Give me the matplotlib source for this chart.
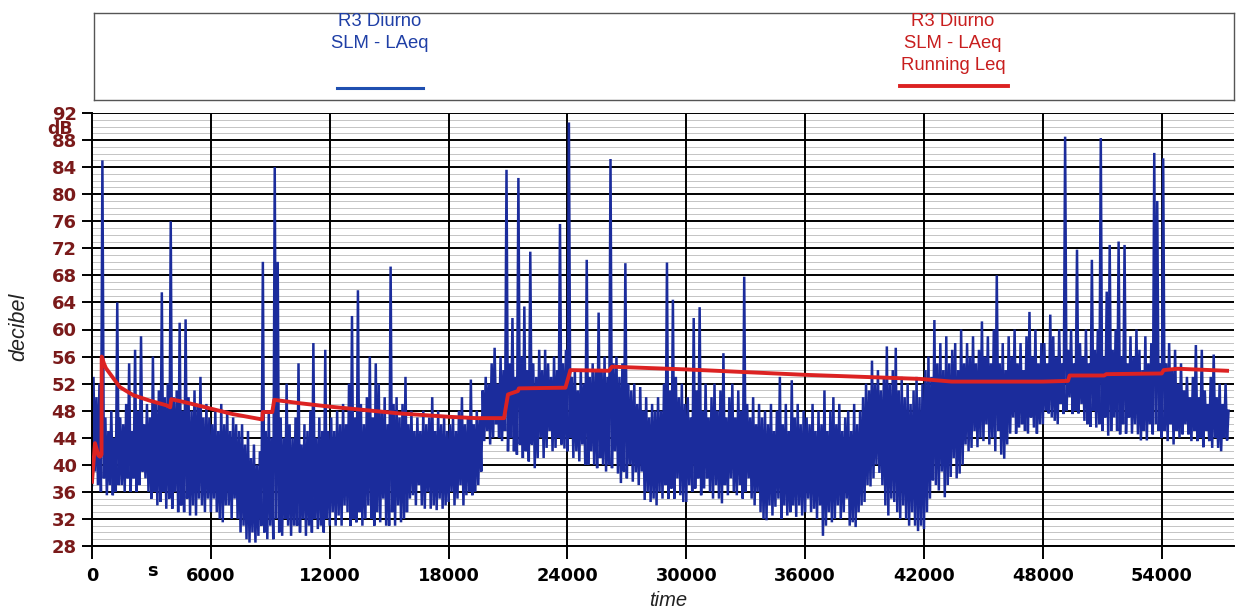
import numpy as np
import matplotlib
matplotlib.use("Agg")
import matplotlib.pyplot as plt
from matplotlib.ticker import MultipleLocator

# ---------------- data ----------------
SAMPLE_STEP = 75  # seconds between plotted LAeq samples

laeq_00000 = [37, 53, 39, 50, 37, 52, 36, 85, 38, 47, 35.5, 45, 37, 48, 35.5, 44, 36, 64, 37, 47,
              37, 46, 36, 49, 38, 55, 36, 45, 38, 57, 36, 48, 37, 59, 39, 46, 38, 49, 36, 47,
              35, 56, 36, 49, 34, 51, 34.5, 65.5, 36, 50, 33.5, 52, 35, 76, 33.5, 50, 36, 51, 33, 61,
              34, 48, 33, 61.5, 35, 50, 32.5, 48, 34, 51, 32.5, 49, 35, 53, 34, 47, 33, 49, 35, 47]
laeq_06000 = [33, 46, 35, 48, 33, 45, 32, 49, 31.5, 46, 34, 48, 34, 45, 32, 47, 35, 46, 32, 45,
              30, 46, 31, 43, 29, 45, 28.5, 41, 30, 43, 28.5, 40, 29.5, 42, 31, 70, 30, 45, 29, 48,
              31, 44, 29, 84, 32, 70, 30, 47, 29.5, 44, 32, 52, 31, 46, 29.5, 44, 31, 47, 31, 55,
              30, 43, 32, 46, 29.5, 45, 31, 48, 30, 58, 32, 44, 30.5, 47, 31, 45, 30, 57, 32, 45]
laeq_12000 = [31, 47, 33, 45, 31, 48, 32.5, 46, 31, 49, 34, 46, 33, 52, 31, 62, 32, 47, 31.5, 65.8,
              33, 49, 31, 46, 32, 50, 34, 56, 32, 47, 31, 55, 33, 52, 31.5, 48, 35, 50, 31, 46,
              31, 69.3, 33, 49, 31, 50, 34, 47, 31.5, 49, 32, 53, 33, 46, 35, 48, 35.5, 45, 34, 47,
              37, 45, 34, 48, 33.5, 46, 36, 47, 33.5, 50, 34, 45, 33.3, 48, 35, 46, 33.5, 47, 34, 45]
laeq_18000 = [34.5, 46, 36, 47, 34, 45, 35, 48, 37, 50, 34, 46, 35.5, 47, 36, 52.6, 35.5, 46, 36, 48,
              37, 47, 39, 51, 43.5, 53, 45, 52, 43, 55, 44, 57.3, 46, 52, 44, 56, 43.5, 54, 45, 83.6,
              42, 55, 44, 61.7, 42, 53, 41.5, 82.4, 43, 56, 41, 63.4, 42, 54, 40.5, 71.5, 43, 55, 39.5, 53,
              41, 57, 44, 54, 41, 57, 42.5, 55, 45, 53, 42, 56, 42.5, 54, 44, 75.6, 43, 55, 42.4, 57]
laeq_24000 = [42, 90.6, 44, 53, 41, 54, 42, 51, 40.5, 54, 43, 52, 40, 70.3, 40, 53, 42, 55, 40, 54,
              39.5, 62.5, 41, 54, 40, 56, 39, 53, 40, 85.2, 39.5, 55, 42, 56, 38.7, 53, 37.3, 55, 39, 69.8,
              38, 52, 40, 51, 37.5, 52, 38.9, 49, 37, 51.5, 39, 48, 34.8, 50, 36, 47, 34.5, 49, 35, 48,
              34, 50, 36, 48, 35, 52, 37, 69.9, 35, 51, 36.5, 64.4, 35, 53, 38, 50, 35.5, 52, 34.5, 49]
laeq_30000 = [34.5, 50, 37, 47, 36, 61.7, 36.5, 51, 38, 63.3, 35.5, 48, 36.5, 52, 38, 47, 36, 50, 35, 52,
              37, 48, 35, 51, 34.3, 56.5, 37, 47, 35.5, 50, 38, 52, 36, 47, 35.5, 51, 37, 48, 35, 67.8,
              36, 49, 38, 47, 35, 50, 34, 46, 36, 49, 33, 47, 32, 48, 31.8, 46, 34, 49, 32.5, 45,
              33.8, 48, 35, 53, 32, 46, 34, 49, 32.5, 45, 33, 52.5, 34, 47, 32.3, 49, 34, 46, 32.5, 48]
laeq_36000 = [33, 47, 35, 46, 33, 49, 33.5, 45, 32, 48, 34, 46, 29.5, 51, 31, 45, 33, 48, 31.5, 50,
              32, 46, 34, 49, 32, 45, 33, 47, 35, 48, 31, 45, 31.5, 49, 30.8, 46, 33, 48, 34, 50,
              34.5, 52, 37, 51, 36.8, 55.4, 38, 52, 40, 54, 38.8, 51, 37, 53, 34, 57.5, 32.5, 52, 35, 54,
              34.5, 57.3, 33, 51, 32, 53, 34, 50, 32, 52, 31, 49, 33, 51, 31, 53, 30.2, 50, 31, 52]
laeq_42000 = [30.5, 54, 33, 56, 35, 53, 37.7, 61.4, 37, 55, 36.2, 58, 39, 54, 35.2, 59, 37, 55, 38.2, 57,
              41, 58, 38, 54, 38.7, 60, 40, 55, 43, 58, 42, 56, 42.5, 59, 45, 55, 42.6, 57, 44, 61.2,
              43.5, 56, 46, 59, 43, 55, 44, 60, 42, 68, 45, 55, 41.5, 58, 40.9, 54, 43, 59, 44.6, 56,
              47, 60, 44.6, 55, 45.5, 58, 46, 54, 45, 59, 44.6, 62.6, 47, 56, 45.5, 60, 44.6, 55, 46, 58]
laeq_48000 = [46, 58, 48, 55, 47.6, 62.2, 47, 59, 46.5, 56, 46, 60, 49, 55, 47.5, 88.5, 48, 57, 50, 60,
              47.5, 55, 48, 71.8, 47.6, 58, 49, 56, 46.5, 60, 46, 55, 45.6, 70.3, 48, 57, 45.5, 60, 46, 88.3,
              45, 56, 47, 65.6, 44.3, 72.5, 45, 57, 47, 60, 45, 73, 44.5, 56, 46, 72.5, 44.6, 55, 47, 59,
              44.6, 56, 46, 60, 44.5, 57, 43.6, 54, 45, 59, 43.6, 55, 46, 58, 44.5, 86.1, 46, 79, 45, 55]
laeq_54000 = [44, 85.3, 45, 55, 43.5, 58, 46, 54, 43, 57, 45, 52, 44, 55, 44.5, 51, 46, 53, 44.5, 50,
              43.5, 53, 45, 57.7, 43.5, 50, 44, 57, 42.6, 51, 45, 49, 43.5, 53, 42.5, 56.3, 44, 50, 42.5, 52,
              42, 49, 44, 52, 43.6, 48]

running_leq_t = [0, 150, 320, 400, 480, 490, 600, 700, 900, 1400, 2080, 2900, 3750, 3950, 4000, 4760,
                 6000, 7100, 8600, 8620, 9100, 9200, 10500, 12000, 15500, 18000, 19400, 20800, 21000,
                 21500, 21550, 23900, 24150, 26100, 26250, 30000, 36000, 41800, 43400, 48000, 49270,
                 49350, 51100, 51200, 54000, 54100, 54800, 57300]
running_leq_db = [37.5, 43.2, 41.4, 41.2, 41.5, 56, 55, 54.3, 53.5, 51.5, 50.3, 49.5, 48.8, 48.5, 49.7, 49.2,
                  48.3, 47.5, 46.7, 47.8, 47.8, 49.6, 49.1, 48.6, 47.6, 47.1, 46.9, 46.9, 50.4,
                  50.9, 51.3, 51.4, 54.0, 53.9, 54.5, 54.1, 53.3, 52.7, 52.3, 52.3, 52.4,
                  53.2, 53.2, 53.4, 53.5, 54.0, 54.2, 53.9]

x_ticks = [0, 6000, 12000, 18000, 24000, 30000, 36000, 42000, 48000, 54000]
y_ticks = [28, 32, 36, 40, 44, 48, 52, 56, 60, 64, 68, 72, 76, 80, 84, 88, 92]

legend_blue = ["R3 Diurno", "SLM - LAeq"]
legend_red = ["R3 Diurno", "SLM - LAeq", "Running Leq"]

# ---------------- styling ----------------
BLUE = "#1b2c9c"
RED = "#dc2222"
MAROON = "#7a1a1a"
W, H = 1236, 609

laeq = np.array(laeq_00000 + laeq_06000 + laeq_12000 + laeq_18000 + laeq_24000 +
                laeq_30000 + laeq_36000 + laeq_42000 + laeq_48000 + laeq_54000)
t = np.arange(len(laeq)) * SAMPLE_STEP

fig = plt.figure(figsize=(W / 100, H / 100), dpi=100)
fig.patch.set_facecolor("white")

ax_l, ax_r, ax_t, ax_b = 92, 1234, 113, 546
ax = fig.add_axes([ax_l / W, 1 - ax_b / H, (ax_r - ax_l) / W, (ax_b - ax_t) / H])
ax.set_axisbelow(True)

ax.plot(t, laeq, color=BLUE, lw=1.8, solid_joinstyle="miter", zorder=2)
ax.plot(running_leq_t, running_leq_db, color=RED, lw=2.8, zorder=3)

ax.set_xlim(0, 57650)
ax.set_ylim(28, 92)
ax.set_xticks(x_ticks)
ax.set_xticklabels([str(v) for v in x_ticks])
ax.set_yticks(y_ticks)
ax.set_yticklabels([str(v) for v in y_ticks])
ax.yaxis.set_minor_locator(MultipleLocator(1))

ax.grid(which="major", axis="y", color="black", lw=1.4)
ax.grid(which="minor", axis="y", color="#c4c4c4", lw=0.7)
for xv in x_ticks[1:]:
    ax.axvline(xv, color="black", lw=1.4, zorder=0.8)

for s in ["top", "right"]:
    ax.spines[s].set_visible(False)
ax.spines["left"].set_linewidth(1.4)
ax.spines["bottom"].set_linewidth(1.4)

ax.tick_params(axis="x", which="major", length=9, width=1.4, pad=6,
               labelsize=12.8, labelcolor="black")
ax.tick_params(axis="y", which="major", length=7, width=1.4, pad=4,
               labelsize=13, labelcolor=MAROON)
ax.tick_params(axis="y", which="minor", length=0)
for lab in ax.get_xticklabels() + ax.get_yticklabels():
    lab.set_fontweight("bold")

ax.text(3050, 25.7, "s", ha="center", va="top", fontsize=12.8, fontweight="bold",
        color="black", clip_on=False)
ax.text(-0.028, 89.6, "dB", transform=ax.get_yaxis_transform(), ha="center", va="center",
        fontsize=12.5, fontweight="bold", color=MAROON, clip_on=False)

fig.text(18.5 / W, 1 - 327 / H, "decibel", rotation=90, ha="center", va="center",
         fontsize=15.5, style="italic", family="Liberation Sans", color="#222222")
fig.text(668 / W, 1 - 600 / H, "time", ha="center", va="center",
         fontsize=14.5, style="italic", family="Liberation Sans", color="#222222")

# ---------------- legend box ----------------
lg_l, lg_r, lg_t, lg_b = 94, 1234, 13, 100
lax = fig.add_axes([lg_l / W, 1 - lg_b / H, (lg_r - lg_l) / W, (lg_b - lg_t) / H])
lax.set_xlim(lg_l, lg_r)
lax.set_ylim(lg_b, lg_t)
lax.set_xticks([])
lax.set_yticks([])
for s in lax.spines.values():
    s.set_color("#555555")
    s.set_linewidth(1.0)

for i, txt in enumerate(legend_blue):
    lax.text(380, 21 + 23 * i, txt, ha="center", va="center", fontsize=13.3,
             family="Liberation Sans", color="#1f3fa6")
lax.plot([337, 423], [88, 88], color="#1f4fb0", lw=2.2)

for i, txt in enumerate(legend_red):
    lax.text(953, 21 + 22 * i, txt, ha="center", va="center", fontsize=13.3,
             family="Liberation Sans", color="#c81e1e")
lax.plot([900, 1008], [86, 86], color=RED, lw=2.8)

fig.savefig("out.png", dpi=100, facecolor="white")
